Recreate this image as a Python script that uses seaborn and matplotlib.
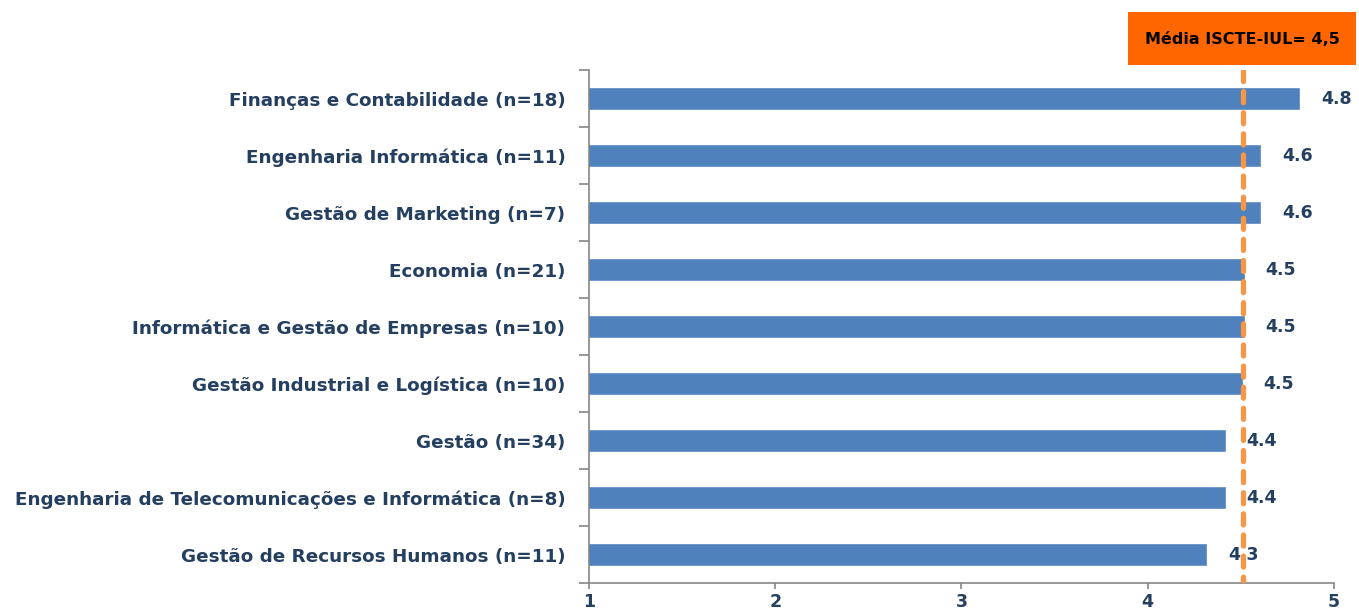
import matplotlib
matplotlib.use("Agg")
import matplotlib.pyplot as plt
from matplotlib.patches import Rectangle
import seaborn as sns
import pandas as pd

# DATA
courses = [
    "Finanças e Contabilidade (n=18)",
    "Engenharia Informática (n=11)",
    "Gestão de Marketing (n=7)",
    "Economia (n=21)",
    "Informática e Gestão de Empresas (n=10)",
    "Gestão Industrial e Logística (n=10)",
    "Gestão (n=34)",
    "Engenharia de Telecomunicações e Informática (n=8)",
    "Gestão de Recursos Humanos (n=11)",
]
scores = [4.82, 4.61, 4.61, 4.52, 4.52, 4.51, 4.42, 4.42, 4.32]
mean_iscte = 4.51
mean_label = "Média ISCTE-IUL= 4,5"
x_ticks = [1, 2, 3, 4, 5]

df = pd.DataFrame({"curso": courses, "media": scores})

BAR = "#4F81BD"
NAVY = "#243F60"
GREY = "#868686"
ORANGE_LINE = "#F79646"
ORANGE_BOX = "#FF6600"

sns.set_theme(style="white")
plt.rcParams["font.family"] = ["DejaVu Sans"]

fig = plt.figure(figsize=(13.59, 6.13), dpi=100)
ax = fig.add_axes([0.4334, 0.0489, 0.5482, 0.8369])

sns.barplot(data=df, x="media", y="curso", color=BAR, width=0.4,
            orient="h", ax=ax, saturation=1)

ax.set_xlim(1, 5)
ax.set_ylim(len(courses) - 0.5, -0.5)
ax.set_xticks(x_ticks)
ax.set_xticklabels([str(t) for t in x_ticks], fontsize=12.5, fontweight="bold", color=NAVY)
ax.set_yticks(list(range(len(courses))))
ax.set_yticklabels(courses, fontsize=13.2, fontweight="bold", color=NAVY)
ax.set_xlabel("")
ax.set_ylabel("")

# boundary ticks on the category axis
ax.set_yticks([i - 0.5 for i in range(len(courses) + 1)], minor=True)
ax.tick_params(axis="y", which="major", left=False, length=0, pad=17)
ax.tick_params(axis="y", which="minor", left=True, length=7, width=1.2,
               color=GREY, direction="out")
ax.tick_params(axis="x", which="major", bottom=True, length=4, width=1.2,
               color=GREY, direction="out", pad=3)

for s in ["top", "right"]:
    ax.spines[s].set_visible(False)
for s in ["left", "bottom"]:
    ax.spines[s].set_color(GREY)
    ax.spines[s].set_linewidth(1.2)

for i, v in enumerate(scores):
    ax.text(v + 0.11, i, f"{v:.1f}", va="center", ha="left",
            fontsize=12.5, fontweight="bold", color=NAVY)

# mean line (dashed, rounded dashes)
ax.plot([mean_iscte, mean_iscte], [-0.5, len(courses) - 0.5], color=ORANGE_LINE,
        linewidth=3.8, linestyle=(0, (2.1, 1.9)), dash_capstyle="round", zorder=5)

fig.add_artist(Rectangle((0.830, 0.894), 0.1678, 0.0865, transform=fig.transFigure,
                         facecolor=ORANGE_BOX, edgecolor="none"))
fig.text(0.914, 0.936, mean_label, ha="center", va="center",
         fontsize=11.5, fontweight="bold", color="black")

fig.savefig("out.png", dpi=100)
